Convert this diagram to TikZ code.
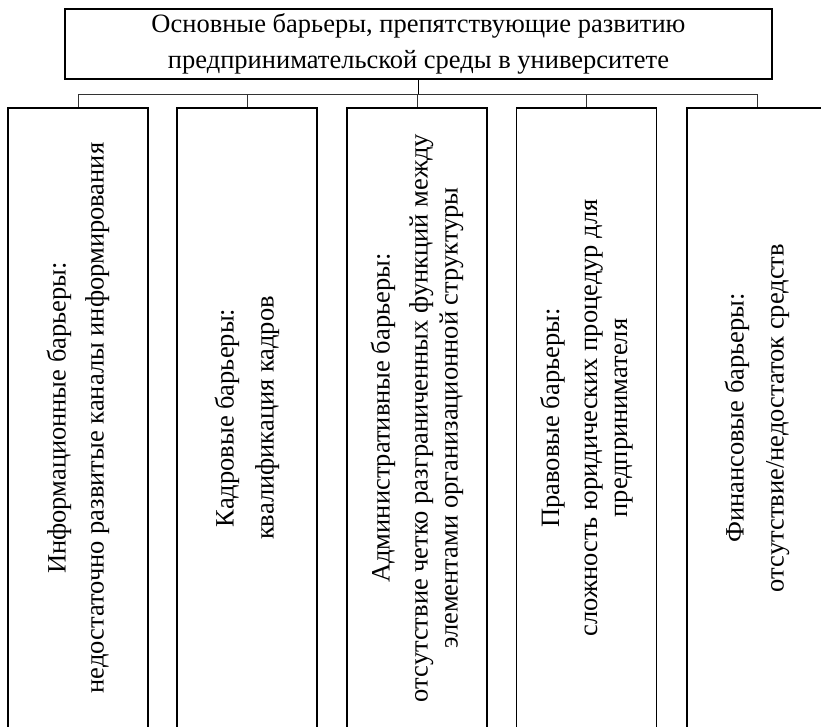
\documentclass[tikz,border=0pt]{standalone}
\usepackage{fontspec}
\setmainfont{Liberation Serif}
\begin{document}
\begin{tikzpicture}[x=1pt,y=-1pt,
  box/.style={draw=black, line width=1.8pt, inner sep=0pt},
  titlebox/.style={box, minimum width=707pt, minimum height=70pt, align=center, font=\fontsize{26.5}{36}\selectfont},
  colbox/.style={box, rotate=90, minimum width=620pt, minimum height=140pt, align=center, font=\fontsize{26.5}{30}\selectfont},
  conn/.style={draw=black!80, line width=0.9pt},
  trunk/.style={draw=black, line width=1.4pt}]
\useasboundingbox (0,0) rectangle (821,726);
\node[titlebox] (title) at (418.5,44) {Основные барьеры, препятствующие развитию\\предпринимательской среды в университете};
\node[colbox] (c1) at (78,418) {Информационные барьеры:\\[8pt]недостаточно развитые каналы информирования};
\node[colbox] (c2) at (247,418) {Кадровые барьеры:\\[10pt]квалификация кадров};
\node[colbox] (c3) at (417,418) {Административные барьеры:\\[8pt]отсутствие четко разграниченных функций между\\элементами организационной структуры};
\node[colbox] (c4) at (586.5,418) {Правовые барьеры:\\[8pt]сложность юридических процедур для\\предпринимателя};
\node[colbox] (c5) at (757,418) {Финансовые барьеры:\\[10pt]отсутствие/недостаток средств};
\coordinate (bus) at (0,94);
\draw[conn] (c1.east |- bus) -- (c5.east |- bus);
\foreach \i in {1,...,5} \draw[conn] (c\i.east |- bus) -- (c\i.east);
\draw[trunk] (title.south) -- (title.south |- bus);
\end{tikzpicture}
\end{document}
